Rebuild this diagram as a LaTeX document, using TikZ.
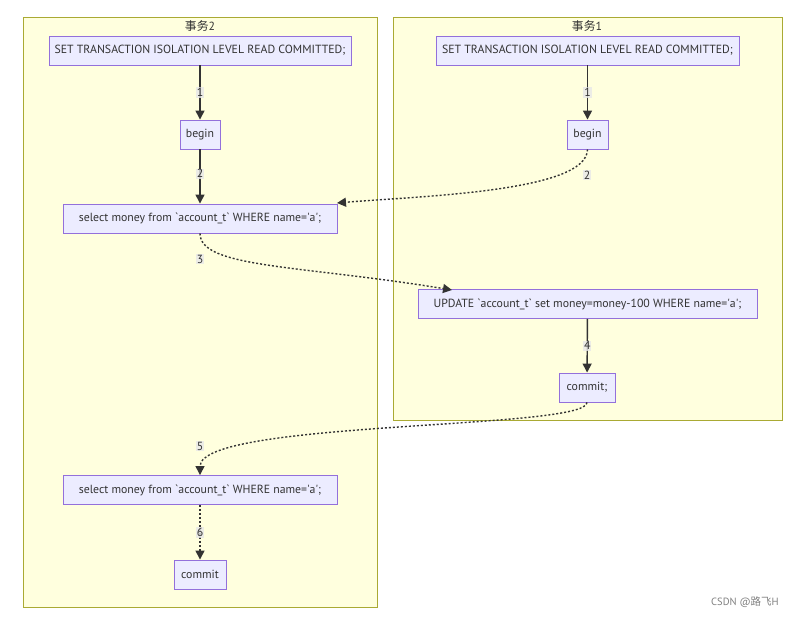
\documentclass[tikz,border=0pt]{standalone}
\usepackage{fontspec}
\setmainfont{PT Sans}
\newfontfamily\cjk{Noto Sans CJK SC}
\usetikzlibrary{arrows.meta}
\definecolor{clfill}{HTML}{FFFFDE}
\definecolor{cldraw}{HTML}{AAAA33}
\definecolor{ndfill}{HTML}{ECECFF}
\definecolor{nddraw}{HTML}{9370DB}
\definecolor{edgec}{HTML}{333333}
\definecolor{lblbg}{HTML}{E8E8E8}
\newcommand{\bq}{\textasciigrave}
\newcommand{\sq}{\textquotesingle}
\tikzset{
  cluster/.style={draw=cldraw, fill=clfill, line width=0.8pt},
  nd/.style={draw=nddraw, fill=ndfill, line width=0.9pt, minimum height=29pt, inner sep=0pt, font=\fontsize{11.8}{14}\selectfont, text=edgec},
  ttl/.style={font=\fontsize{11.8}{14}\selectfont, text=edgec},
  lbl/.style={fill=lblbg, fill opacity=0.8, text opacity=1, inner sep=1pt, font=\fontsize{11.8}{14}\selectfont, text=edgec},
  edge/.style={draw=edgec, line width=1.4pt, -{Triangle[length=9pt,width=9pt]}},
  dotedge/.style={edge, line width=1.4pt, dash pattern=on 2pt off 2pt},
}
\begin{document}
\begin{tikzpicture}[x=1pt,y=-1pt]
\useasboundingbox (0,0) rectangle (803,617);
% clusters
\path[cluster] (23,17) rectangle (377,607);
\path[cluster] (393,17) rectangle (782,420);
\node[ttl] (t2) at (200,26) {{\cjk 事务}2};
\node[ttl] (t1) at (587,26) {{\cjk 事务}1};
% left nodes
\node[nd, minimum width=302pt] (setL) at (200,50.5) {SET TRANSACTION ISOLATION LEVEL READ COMMITTED;};
\node[nd, minimum width=40pt] (beginL) at (200,134.5) {begin};
\node[nd, minimum width=274pt] (sel1) at (200,218.5) {select money from \bq account\_t\bq\ WHERE name=\sq a\sq;};
\node[nd, minimum width=274pt] (sel2) at (200,490) {select money from \bq account\_t\bq\ WHERE name=\sq a\sq;};
\node[nd, minimum width=52pt] (commitL) at (200,574.5) {commit};
% right nodes
\node[nd, minimum width=303pt] (setR) at (587.5,50.5) {SET TRANSACTION ISOLATION LEVEL READ COMMITTED;};
\node[nd, minimum width=41pt] (beginR) at (587.5,134.5) {begin};
\node[nd, minimum width=339pt] (upd) at (587.5,304) {UPDATE \bq account\_t\bq\ set money=money-100 WHERE name=\sq a\sq;};
\node[nd, minimum width=56pt] (commitR) at (587,387.5) {commit;};
% edges
\draw[edge] (setL) -- node[lbl] {1} (beginL);
\draw[edge] (beginL) -- node[lbl, pos=0.45] {2} (sel1);
\draw[edge] (setR) -- node[lbl] {1} (beginR);
\draw[edge] (upd) -- node[lbl] {4} (commitR);
\coordinate (e2a) at (337,203);
\draw[dotedge] (beginR.south) .. controls (587,192) and (420,196) .. (e2a);
\node[lbl] (l2r) at (587,175) {2};
\coordinate (e3a) at (452,290);
\draw[dotedge] (sel1.south) .. controls (200,268) and (300,265) .. (e3a);
\node[lbl] (l3) at (200,259) {3};
\draw[dotedge] (commitR.south) .. controls (587,430) and (200,420) .. (sel2.north);
\node[lbl] (l5) at (200,446) {5};
\draw[dotedge] (sel2) -- node[lbl] {6} (commitL);
% watermark
\node[font=\fontsize{10.5}{12}\selectfont, text=gray] (wm) at (745,602) {CSDN @{\cjk 路飞}H};
\end{tikzpicture}
\end{document}
